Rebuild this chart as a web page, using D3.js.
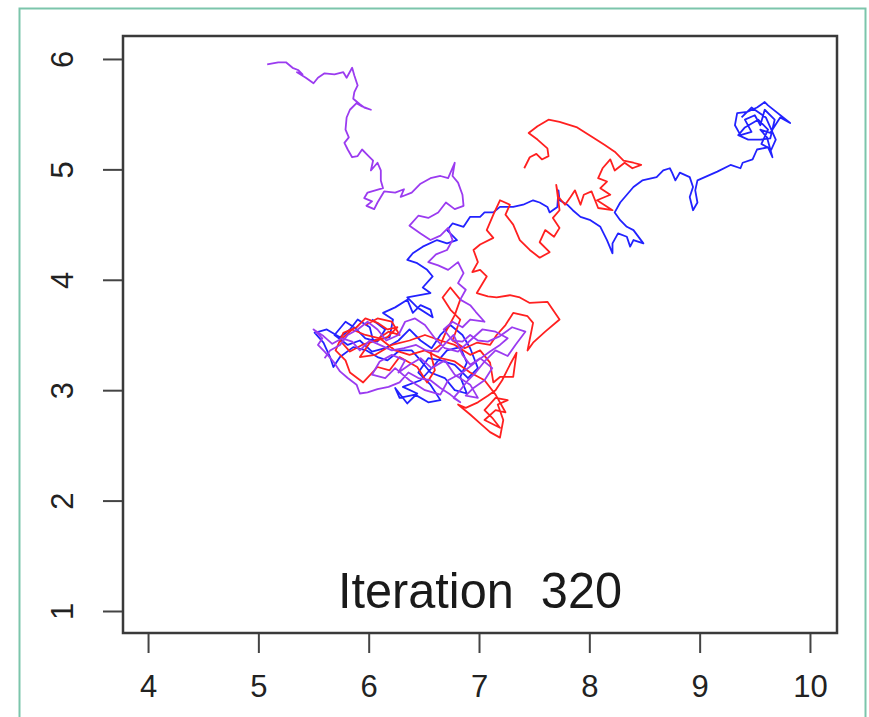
<!DOCTYPE html>
<html><head><meta charset="utf-8">
<script src="https://cdn.jsdelivr.net/npm/d3@7"></script>
<style>body{margin:0;background:#fff}svg{display:block}</style>
</head><body>
<script>
const xTicks = [4,5,6,7,8,9,10];
const yTicks = [1,2,3,4,5,6];
const title = "Iteration  320";

const purpleX = [5.08,5.18,5.25,5.31,5.36,5.40,5.35,5.43,5.50,5.54,5.60,5.69,5.77,5.80,5.85,5.87,5.90,5.87,5.86,5.92,5.96,6.02,5.94,5.89,5.83,5.80,5.79,5.82,5.78,5.81,5.85,5.90,5.94,5.99,6.04,6.02,6.08,6.11,6.11,6.13,6.06,5.99,5.96,6.03,5.98,6.05,6.08,6.14,6.24,6.32,6.29,6.39,6.47,6.56,6.65,6.72,6.78,6.76,6.81,6.85,6.86,6.78,6.70,6.63,6.54,6.45,6.37,6.47,6.56,6.65,6.72,6.76,6.71,6.61,6.54,6.63,6.72,6.81,6.86,6.81,6.88,6.83,6.92,6.97,7.05,6.92,6.85,6.76,6.68,6.76,6.85,6.92,6.99,7.08,7.19,7.30,7.42,7.33,7.26,7.15,7.05,6.97,6.90,6.83,6.77,6.83,6.74,6.65,6.56,6.45,6.36,6.28,6.18,6.08,5.99,5.92,5.89,5.81,5.74,5.68,5.60,5.54,5.58,5.50,5.59,5.67,5.76,5.85,5.92,6.01,6.10,6.21,6.32,6.43,6.52,6.63,6.70,6.77,6.85,6.92,7.01,7.12,7.05,6.95,6.88,6.99,
  6.92,6.78,6.69,6.57,6.47,6.37,6.27,6.33,6.21,6.10,6.03,6.15,6.24,6.37,6.51,6.65,6.72,6.85,6.99,7.10,7.19,7.26,7.15,7.03,6.92,6.81,6.69,6.60,6.51,6.42,6.33,6.27,6.16,6.08,5.99,5.90,5.81,5.74,5.65,5.60];
const purpleY = [5.95,5.97,5.97,5.92,5.90,5.86,5.88,5.83,5.78,5.83,5.87,5.86,5.88,5.83,5.92,5.85,5.76,5.70,5.64,5.59,5.56,5.54,5.57,5.60,5.54,5.47,5.36,5.29,5.24,5.18,5.11,5.12,5.18,5.13,5.08,4.99,5.06,4.99,4.90,4.83,4.81,4.79,4.74,4.71,4.67,4.64,4.70,4.80,4.79,4.82,4.75,4.79,4.87,4.92,4.94,4.92,5.06,4.94,4.88,4.77,4.67,4.64,4.70,4.61,4.56,4.58,4.49,4.42,4.36,4.40,4.47,4.36,4.27,4.23,4.16,4.13,4.09,4.16,4.06,3.97,3.91,3.82,3.77,3.71,3.62,3.64,3.57,3.62,3.55,3.45,3.44,3.50,3.45,3.44,3.49,3.57,3.53,3.41,3.31,3.36,3.26,3.16,3.09,3.00,2.93,2.89,2.96,3.02,3.09,3.11,3.16,3.07,3.03,3.01,2.98,2.97,3.05,3.11,3.17,3.26,3.35,3.41,3.47,3.55,3.49,3.42,3.47,3.44,3.36,3.45,3.41,3.36,3.38,3.41,3.36,3.35,3.43,3.50,3.32,3.23,3.29,3.20,3.09,3.02,2.95,2.93,
  3.05,3.14,3.27,3.20,3.29,3.23,3.16,3.27,3.32,3.26,3.14,3.11,3.20,3.09,3.00,2.96,3.09,3.16,3.27,3.35,3.41,3.47,3.53,3.55,3.45,3.35,3.38,3.47,3.59,3.65,3.62,3.50,3.45,3.55,3.62,3.55,3.50,3.41,3.36,3.29];

const blueX = [6.03,6.15,6.08,5.97,5.88,5.79,5.69,5.81,5.92,6.03,6.15,6.27,6.37,6.47,6.57,6.65,6.74,6.85,6.92,6.99,6.90,6.78,6.65,6.54,6.45,6.56,6.65,6.54,6.42,6.28,6.24,
  6.35,6.44,6.31,6.47,6.58,6.71,6.83,6.89,6.83,6.89,6.78,6.69,6.56,6.47,6.39,6.28,6.17,6.08,5.98,5.86,5.74,5.68,5.65,5.59,5.51,5.62,5.74,5.83,5.90,6.01,6.04,6.19,6.22,6.13,6.24,6.35,6.40,6.47,6.56,6.58,6.44,6.35,6.56,6.49,6.58,6.53,6.44,6.35,6.40,6.49,6.62,6.71,6.80,6.71,6.76,6.86,6.92,7.01,7.05,7.13,7.19,7.31,7.40,7.49,7.55,7.62,7.64,7.71,7.72,7.73,7.80,7.85,7.92,8.01,8.10,8.16,8.21,8.21,8.26,8.34,8.37,8.40,8.49,8.40,8.34,8.28,8.23,8.28,8.40,8.48,8.61,8.67,8.73,8.75,8.78,8.82,8.91,8.94,8.91,8.94,8.98,8.96,8.98,9.16,9.28,9.37,9.39,9.48,9.52,9.62,9.66,9.61,9.55,9.64,9.73,9.82,9.62,9.59,9.52,9.43,9.34,9.32,9.37,9.47,9.41,9.50,9.55,9.59,9.68,9.64,9.55,9.44,9.35,
  9.41,9.53,9.62,9.56,9.65,9.69,9.60,9.47,9.38];
const blueY = [3.64,3.55,3.44,3.47,3.56,3.62,3.50,3.41,3.45,3.35,3.38,3.45,3.55,3.45,3.38,3.50,3.59,3.50,3.38,3.20,3.11,3.23,3.27,3.29,3.16,3.05,2.91,2.89,2.96,2.93,3.02,
  2.88,2.97,3.03,3.09,3.21,3.36,3.39,3.25,3.12,2.97,3.00,3.11,3.16,3.27,3.36,3.36,3.27,3.30,3.36,3.39,3.30,3.21,3.30,3.43,3.52,3.55,3.48,3.55,3.64,3.57,3.45,3.48,3.64,3.70,3.75,3.82,3.70,3.77,3.73,3.66,3.75,3.84,3.88,3.93,4.03,4.09,4.15,4.18,4.24,4.30,4.36,4.33,4.36,4.45,4.51,4.48,4.57,4.57,4.61,4.61,4.66,4.66,4.68,4.72,4.70,4.66,4.61,4.66,4.81,4.72,4.68,4.63,4.57,4.54,4.48,4.36,4.24,4.33,4.42,4.39,4.30,4.36,4.33,4.45,4.48,4.54,4.61,4.70,4.84,4.90,4.93,4.99,5.01,4.97,4.90,4.97,4.93,4.84,4.75,4.63,4.70,4.81,4.90,4.98,5.04,5.01,5.06,5.09,5.18,5.20,5.11,5.29,5.36,5.33,5.47,5.42,5.58,5.61,5.56,5.52,5.51,5.40,5.31,5.34,5.45,5.49,5.40,5.54,5.45,5.28,5.27,5.27,5.31,
  5.38,5.45,5.36,5.23,5.18,5.27,5.47,5.56,5.47];

const redX = [7.41,7.46,7.52,7.57,7.63,7.62,7.53,7.45,7.53,7.63,7.73,7.89,8.03,8.14,8.23,8.31,8.40,8.47,8.39,8.32,8.23,8.19,8.12,8.08,8.16,8.10,8.19,8.07,8.21,8.08,8.02,7.95,7.92,7.87,7.83,7.78,7.72,7.70,7.73,7.67,7.73,7.68,7.60,7.55,7.64,7.55,7.46,7.37,7.31,7.24,7.28,7.19,7.13,7.07,7.13,7.01,6.95,6.99,6.94,7.01,7.07,6.98,7.08,7.16,7.28,7.37,7.46,7.62,7.73,7.60,7.49,7.44,7.49,7.44,7.31,7.24,7.16,7.10,6.98,6.87,6.76,6.83,6.74,6.67,6.74,6.83,6.78,6.71,6.65,6.56,6.60,6.53,6.44,6.28,6.19,6.08,5.95,5.83,5.79,5.70,5.77,5.89,5.97,6.08,6.17,6.26,6.17,6.01,5.92,6.06,6.21,6.37,6.51,6.65,6.78,6.92,7.01,7.10,7.13,7.19,7.31,7.34,7.28,7.21,7.15,7.08,6.99,6.88,6.81,6.92,7.01,7.10,7.19,7.22,7.17,7.26,7.15,7.05,7.12,
  7.19,7.05,7.15,7.24,7.15,7.05,6.92,6.78,6.65,6.51,6.37,6.24,6.10,5.97,5.85,5.74,5.83,5.94,6.06,6.18,6.28,6.21,6.08,5.97];
const redY = [5.01,5.11,5.14,5.09,5.12,5.19,5.27,5.33,5.39,5.45,5.43,5.38,5.29,5.22,5.16,5.08,5.06,5.04,5.01,5.06,4.99,5.09,5.01,4.92,4.89,4.83,4.77,4.72,4.63,4.65,4.80,4.77,4.68,4.81,4.75,4.68,4.75,4.86,4.63,4.56,4.47,4.39,4.45,4.34,4.25,4.20,4.27,4.36,4.50,4.59,4.68,4.72,4.59,4.45,4.38,4.32,4.27,4.16,4.07,4.09,4.03,3.88,3.85,3.84,3.86,3.84,3.79,3.80,3.64,3.53,3.43,3.36,3.61,3.67,3.70,3.59,3.50,3.41,3.43,3.38,3.45,3.64,3.73,3.84,3.93,3.82,3.68,3.55,3.41,3.34,3.18,3.07,3.21,3.30,3.18,3.21,3.07,3.16,3.27,3.36,3.52,3.57,3.65,3.61,3.55,3.57,3.48,3.43,3.30,3.32,3.41,3.45,3.50,3.45,3.41,3.32,3.36,3.25,3.07,3.12,3.12,3.34,3.23,3.09,3.00,2.95,2.89,2.84,2.87,2.78,2.70,2.62,2.57,2.73,2.87,2.91,2.93,2.82,2.75,
  2.66,2.73,2.82,2.80,2.96,3.09,3.16,3.26,3.29,3.36,3.32,3.36,3.47,3.50,3.55,3.45,3.35,3.41,3.45,3.53,3.50,3.62,3.65,3.59];

const W = 869, H = 717;
const svg = d3.select("body").append("svg").attr("width", W).attr("height", H);
svg.append("rect").attr("width", W).attr("height", H).attr("fill", "#fff");
svg.append("rect").attr("x", 19.5).attr("y", 8.5).attr("width", 846).attr("height", 720)
  .attr("fill", "none").attr("stroke", "#7cc5ab").attr("stroke-width", 2);

const x = d3.scaleLinear().domain([3.773, 10.245]).range([123, 837]);
const y = d3.scaleLinear().domain([0.8007, 6.208]).range([633, 36]);

const line = d3.line().x(d => x(d[0])).y(d => y(d[1]));
const series = [
  {xs: blueX, ys: blueY, color: "#2222ff"},
  {xs: redX, ys: redY, color: "#ff2020"},
  {xs: purpleX, ys: purpleY, color: "#9b3bf0"}
];
const plot = svg.append("g");
series.forEach(s => {
  const pts = s.xs.map((v, i) => [v, s.ys[i]]);
  plot.append("path").attr("d", line(pts)).attr("fill", "none")
    .attr("stroke", s.color).attr("stroke-width", 1.8).attr("stroke-linejoin", "round");
});

svg.append("rect").attr("x", 123).attr("y", 36).attr("width", 714).attr("height", 597)
  .attr("fill", "none").attr("stroke", "#3a3a3a").attr("stroke-width", 2.5);

const xa = svg.append("g").attr("transform", "translate(0,634)")
  .call(d3.axisBottom(x).tickValues(xTicks).tickSize(19).tickPadding(22).tickFormat(d3.format("d")));
xa.select(".domain").remove();
xa.selectAll("line").attr("stroke", "#444").attr("stroke-width", 2);
xa.selectAll("text").attr("font-family", "Liberation Sans, Arial, sans-serif").attr("font-size", 31).attr("fill", "#222");

const ya = svg.append("g").attr("transform", "translate(122,0)")
  .call(d3.axisLeft(y).tickValues(yTicks).tickSize(19).tickFormat(d3.format("d")));
ya.select(".domain").remove();
ya.selectAll("line").attr("stroke", "#444").attr("stroke-width", 2);
ya.selectAll("text")
  .attr("font-family", "Liberation Sans, Arial, sans-serif").attr("font-size", 31).attr("fill", "#222")
  .attr("text-anchor", "middle")
  .attr("transform", "translate(-60,0) rotate(-90)")
  .attr("x", 0).attr("y", 0).attr("dy", "0.35em");

svg.append("text").attr("x", 480).attr("y", 608).attr("text-anchor", "middle")
  .attr("font-family", "Liberation Sans, Arial, sans-serif").attr("font-size", 50)
  .attr("fill", "#1a1a1a").style("white-space", "pre")
  .attr("textLength", 284).attr("lengthAdjust", "spacingAndGlyphs")
  .text(title);
</script>
</body></html>
